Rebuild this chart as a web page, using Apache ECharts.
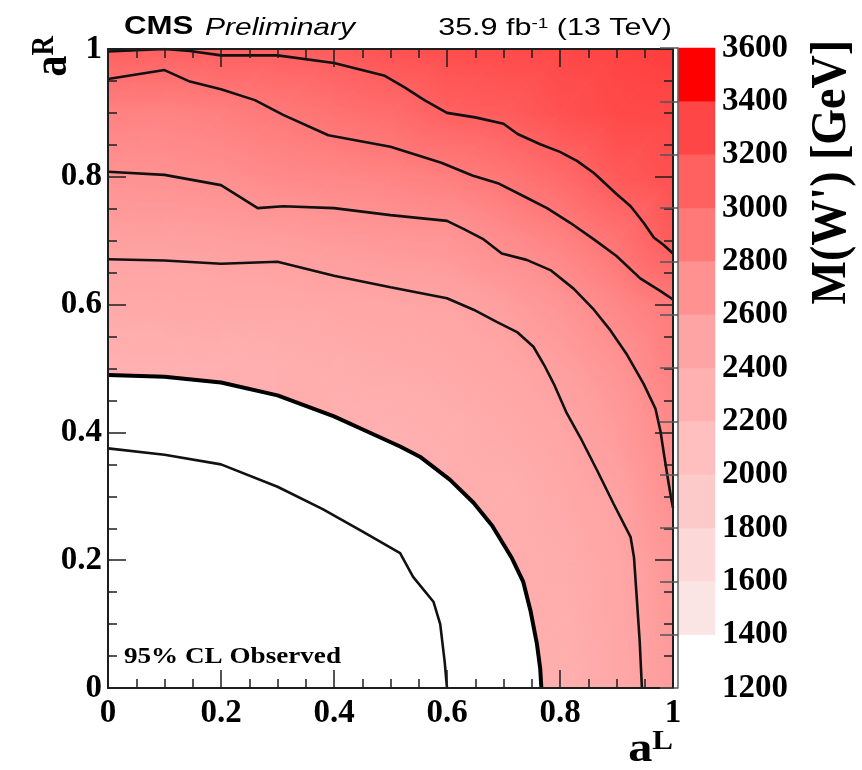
<!DOCTYPE html>
<html><head><meta charset="utf-8">
<script src="https://cdn.jsdelivr.net/npm/echarts@6.0.0/dist/echarts.min.js"></script>
<style>html,body{margin:0;padding:0;background:#fff}#c{width:862px;height:770px}</style>
</head><body><div id="c"></div>
<script>
// ---- data ----
const aLGrid = [0, 0.1, 0.2, 0.3, 0.4, 0.5, 0.6, 0.7, 0.8, 0.9, 1.0];
const aRGrid = [0, 0.1, 0.2, 0.3, 0.4, 0.5, 0.6, 0.7, 0.8, 0.9, 1.0];
// M(W') limit [GeV], rows = aR (0 -> 1), columns = aL (0 -> 1); null = no limit (white)
const massRow00 = [null, null, null, null, null, null, null, null, 2337, 2449, 2600];
const massRow01 = [null, null, null, null, null, null, null, null, 2351, 2457, 2620];
const massRow02 = [null, null, null, null, null, null, null, null, 2380, 2471, 2650];
const massRow03 = [null, null, null, null, null, null, null, 2340, 2420, 2515, 2711];
const massRow04 = [null, null, null, null, null, 2312, 2351, 2403, 2470, 2591, 2772];
const massRow05 = [2311, 2314, 2324, 2340, 2368, 2395, 2422, 2462, 2550, 2666, 2834];
const massRow06 = [2422, 2424, 2431, 2436, 2459, 2478, 2493, 2561, 2656, 2784, 2895];
const massRow07 = [2542, 2546, 2559, 2576, 2604, 2629, 2649, 2737, 2821, 2949, 3155];
const massRow08 = [2688, 2696, 2717, 2763, 2785, 2812, 2852, 2925, 3023, 3156, 3230];
const massRow09 = [2827, 2818, 2851, 2900, 2961, 3008, 3100, 3136, 3221, 3280, 3290];
const massRow10 = [3110, 3100, 3120, 3120, 3140, 3212, 3250, 3270, 3290, 3310, 3330];
const massGrid = [massRow00, massRow01, massRow02, massRow03, massRow04, massRow05,
                  massRow06, massRow07, massRow08, massRow09, massRow10];

// contour lines [aL, aR]
const contour1 = [[0,0.996],[0.1,1.0],[0.145,0.997],[0.2,0.99],[0.3,0.99],[0.4,0.978],[0.49,0.958],[0.525,0.94],[0.56,0.92],[0.6,0.9],[0.65,0.893],[0.7,0.883],[0.725,0.867],[0.765,0.851],[0.8,0.839],[0.83,0.825],[0.86,0.806],[0.9,0.773],[0.925,0.754],[0.948,0.728],[0.966,0.705],[0.984,0.693],[1.0,0.68]];
const contour2 = [[0,0.953],[0.1,0.967],[0.145,0.949],[0.2,0.937],[0.26,0.92],[0.31,0.897],[0.39,0.865],[0.5,0.847],[0.59,0.822],[0.645,0.802],[0.69,0.79],[0.735,0.77],[0.777,0.751],[0.818,0.728],[0.86,0.702],[0.9,0.676],[0.942,0.641],[0.978,0.621],[1.0,0.608]];
const contour3 = [[0,0.808],[0.1,0.803],[0.2,0.787],[0.265,0.751],[0.31,0.754],[0.4,0.751],[0.5,0.74],[0.6,0.731],[0.63,0.718],[0.665,0.702],[0.697,0.68],[0.741,0.67],[0.783,0.654],[0.824,0.625],[0.86,0.592],[0.889,0.56],[0.919,0.521],[0.948,0.476],[0.969,0.437],[0.978,0.401],[0.984,0.366],[0.991,0.327],[0.996,0.301],[1.0,0.282]];
const contour4 = [[0,0.671],[0.1,0.669],[0.2,0.664],[0.3,0.667],[0.4,0.645],[0.5,0.627],[0.6,0.61],[0.647,0.592],[0.688,0.573],[0.724,0.557],[0.753,0.534],[0.774,0.502],[0.789,0.476],[0.812,0.43],[0.836,0.392],[0.866,0.34],[0.895,0.288],[0.925,0.236],[0.931,0.204],[0.936,0.139],[0.941,0.074],[0.945,0]];
const observedLimit = [[0,0.49],[0.1,0.487],[0.2,0.478],[0.3,0.458],[0.4,0.425],[0.45,0.405],[0.517,0.378],[0.552,0.362],[0.605,0.326],[0.647,0.29],[0.68,0.254],[0.715,0.203],[0.735,0.166],[0.748,0.12],[0.759,0.07],[0.765,0.03],[0.767,0]];
const innerContour = [[0,0.375],[0.1,0.365],[0.2,0.35],[0.3,0.315],[0.38,0.28],[0.45,0.245],[0.517,0.211],[0.54,0.174],[0.576,0.135],[0.588,0.1],[0.596,0.04],[0.6,0]];

// colour scale
const colorbarEdges = [1200,1400,1600,1800,2000,2200,2400,2600,2800,3000,3200,3400,3600];
const colorbarColors = ['#ffffff','#fbe4e4','#fcd8d8','#fdcaca','#ffbfbf','#ffb1b1','#ffa4a4','#ff9191','#ff7979','#ff6161','#ff4646','#ff0000'];
const colorbarTickLabels = ['1200','1400','1600','1800','2000','2200','2400','2600','2800','3000','3200','3400','3600'];

// ---- helpers ----
const palValues = colorbarEdges.slice(0, -1).map((e, k) => (e + colorbarEdges[k + 1]) / 2);
function hexRgb(h){ return [parseInt(h.substr(1,2),16), parseInt(h.substr(3,2),16), parseInt(h.substr(5,2),16)]; }
const palRgb = colorbarColors.map(hexRgb);
function palColor(v){
  if (v <= palValues[0]) return colorbarColors[0];
  const n = palValues.length;
  if (v >= palValues[n-1]) return colorbarColors[n-1];
  let k = 0; while (v > palValues[k+1]) k++;
  const t = (v - palValues[k]) / (palValues[k+1] - palValues[k]);
  const a = palRgb[k], b = palRgb[k+1];
  return 'rgb(' + [0,1,2].map(c => Math.round(a[c] + (b[c]-a[c]) * t)).join(',') + ')';
}
function triStyle(p, v){
  const d1x = p[1][0]-p[0][0], d1y = p[1][1]-p[0][1];
  const d2x = p[2][0]-p[0][0], d2y = p[2][1]-p[0][1];
  const dv1 = v[1]-v[0], dv2 = v[2]-v[0];
  const det = d1x*d2y - d1y*d2x;
  const b = (dv1*d2y - dv2*d1y) / det;
  const c = (d1x*dv2 - d2x*dv1) / det;
  const g2 = b*b + c*c;
  if (!isFinite(g2) || g2 < 1e-12) { const col = palColor((v[0]+v[1]+v[2])/3); return {fill: col, stroke: col, lineWidth: 1}; }
  const vmin = Math.min(v[0],v[1],v[2]), vmax = Math.max(v[0],v[1],v[2]);
  const sx = p[0][0] + b*(vmin-v[0])/g2, sy = p[0][1] + c*(vmin-v[0])/g2;
  const ex = p[0][0] + b*(vmax-v[0])/g2, ey = p[0][1] + c*(vmax-v[0])/g2;
  const stops = [];
  for (let s = 0; s <= 4; s++) stops.push({offset: s/4, color: palColor(vmin + (vmax-vmin)*s/4)});
  const grad = {type: 'linear', x: sx, y: sy, x2: ex, y2: ey, colorStops: stops, global: true};
  return {fill: grad, stroke: grad, lineWidth: 1};
}

const cells = [];
for (let j = 0; j < aRGrid.length - 1; j++)
  for (let i = 0; i < aLGrid.length - 1; i++)
    cells.push([aLGrid[i], aRGrid[j], aLGrid[i+1], aRGrid[j+1], i, j]);

const bands = colorbarColors.map((c, k) => [colorbarEdges[k], colorbarEdges[k+1], k]);

const SERIF = "'Liberation Serif', 'Times New Roman', serif";
const SANS = "'Liberation Sans', Arial, sans-serif";
const labelFont = {fontFamily: SERIF, fontWeight: 'bold', fontSize: 33, color: '#000'};
const axisCol = '#1e1e1e';
const lineCol = '#111';

function mainAxis(extra){
  return Object.assign({
    type: 'value', min: 0, max: 1, interval: 0.2, gridIndex: 0, z: 10,
    axisLine: {show: true, onZero: false, lineStyle: {color: axisCol, width: 2}},
    axisTick: {show: true, inside: true, length: 18, lineStyle: {color: axisCol, width: 1.5}},
    minorTick: {show: true, splitNumber: 4, length: 9, lineStyle: {color: axisCol, width: 1.5}},
    splitLine: {show: false},
    axisLabel: {show: false}
  }, extra);
}

const chart = echarts.init(document.getElementById('c'), null, {renderer: 'canvas'});
chart.setOption({
  backgroundColor: '#fff',
  animation: false,
  grid: [
    {left: 108, top: 49, width: 565, height: 639, containLabel: false, outerBoundsMode: 'none'},
    {left: 678, top: 48, width: 37, height: 640, containLabel: false, outerBoundsMode: 'none'}
  ],
  xAxis: [
    mainAxis({position: 'bottom', axisLabel: Object.assign({show: true, margin: 9, formatter: v => String(v)}, labelFont)}),
    mainAxis({position: 'top'}),
    {type: 'value', gridIndex: 1, min: 0, max: 1, show: false}
  ],
  yAxis: [
    mainAxis({position: 'left', axisLabel: Object.assign({show: true, margin: 6, formatter: v => String(v)}, labelFont)}),
    mainAxis({position: 'right'}),
    {type: 'value', gridIndex: 1, min: 1200, max: 3600, interval: 200, position: 'right', z: 10,
     axisLine: {show: true, lineStyle: {color: '#666', width: 1.5}},
     axisTick: {show: true, inside: true, length: 18, lineStyle: {color: '#555', width: 1.5}},
     splitLine: {show: false},
     axisLabel: Object.assign({show: true, margin: 7, formatter: v => colorbarTickLabels[colorbarEdges.indexOf(v)] || String(v)}, labelFont)}
  ],
  series: [
    {
      type: 'custom', name: 'M(W\')', xAxisIndex: 0, yAxisIndex: 0, z: 1,
      data: cells, encode: {x: [0, 2], y: [1, 3]},
      renderItem: function(params, api){
        const a0 = api.value(0), r0 = api.value(1), a1 = api.value(2), r1 = api.value(3);
        const i = api.value(4), j = api.value(5);
        const raw = [massGrid[j][i], massGrid[j][i+1], massGrid[j+1][i+1], massGrid[j+1][i]];
        const known = raw.filter(v => v != null);
        if (!known.length) return null;
        const fillV = Math.min.apply(null, known);
        const vals = raw.map(v => v == null ? fillV : v);
        const P = [api.coord([a0, r0]), api.coord([a1, r0]), api.coord([a1, r1]), api.coord([a0, r1])];
        const tris = [[0,1,2],[0,2,3]];
        return {type: 'group', children: tris.map(t => ({
          type: 'polygon', shape: {points: t.map(k => P[k])},
          style: triStyle(t.map(k => P[k]), t.map(k => vals[k]))
        }))};
      }
    },
    {
      type: 'custom', name: 'colorbar', xAxisIndex: 2, yAxisIndex: 2, z: 1,
      data: bands, encode: {y: [0, 1]},
      renderItem: function(params, api){
        const lo = api.value(0), hi = api.value(1), k = api.value(2);
        const p0 = api.coord([0, hi]), p1 = api.coord([1, lo]);
        return {type: 'rect', shape: {x: p0[0], y: p0[1], width: p1[0]-p0[0], height: p1[1]-p0[1]},
                style: {fill: colorbarColors[k], stroke: colorbarColors[k], lineWidth: 0.5}};
      }
    },
    {type: 'line', name: 'observed', xAxisIndex: 0, yAxisIndex: 0, z: 4, data: observedLimit,
     showSymbol: false, symbol: 'none', silent: true,
     lineStyle: {color: '#000', width: 4}, areaStyle: {color: '#fff', opacity: 1, origin: 'start'}},
    {type: 'line', xAxisIndex: 0, yAxisIndex: 0, z: 5, data: innerContour, symbol: 'none', lineStyle: {color: lineCol, width: 2.6}},
    {type: 'line', xAxisIndex: 0, yAxisIndex: 0, z: 5, data: contour4, symbol: 'none', lineStyle: {color: lineCol, width: 2.6}},
    {type: 'line', xAxisIndex: 0, yAxisIndex: 0, z: 5, data: contour3, symbol: 'none', lineStyle: {color: lineCol, width: 2.6}},
    {type: 'line', xAxisIndex: 0, yAxisIndex: 0, z: 5, data: contour2, symbol: 'none', lineStyle: {color: lineCol, width: 2.6}},
    {type: 'line', xAxisIndex: 0, yAxisIndex: 0, z: 5, data: contour1, symbol: 'none', lineStyle: {color: lineCol, width: 2.6}}
  ],
  graphic: [
    {type: 'text', x: 124, y: 27, scaleX: 1.2, z: 20, style: {text: 'CMS', font: "bold 26px " + SANS, fill: '#000',
      align: 'left', verticalAlign: 'middle', textAlign: 'left', textVerticalAlign: 'middle'}},
    {type: 'text', x: 205, y: 28, scaleX: 1.25, z: 20, style: {text: 'Preliminary', font: "italic 24px " + SANS, fill: '#000',
      align: 'left', verticalAlign: 'middle', textAlign: 'left', textVerticalAlign: 'middle'}},
    {type: 'text', x: 672, y: 28, scaleX: 1.27, z: 20, style: {
      text: '{n|35.9 fb}{s|-1}{n| (13 TeV)}', fill: '#000',
      align: 'right', verticalAlign: 'middle', textAlign: 'right', textVerticalAlign: 'middle',
      rich: {n: {fontFamily: SANS, fontSize: 24, verticalAlign: 'bottom'}, s: {fontFamily: SANS, fontSize: 15, verticalAlign: 'top'}}}},
    {type: 'text', x: 124, y: 657, scaleX: 1.13, z: 20, style: {text: '95% CL Observed', font: "bold 24px " + SERIF, fill: '#000',
      align: 'left', verticalAlign: 'middle', textAlign: 'left', textVerticalAlign: 'middle'}},
    {type: 'text', x: 54, y: 36, rotation: Math.PI/2, scaleY: 1.15, z: 20, style: {
      text: '{a|a}{s|R}', align: 'right', verticalAlign: 'middle', textAlign: 'right', textVerticalAlign: 'middle', fill: '#000',
      rich: {a: {fontFamily: SERIF, fontWeight: 'bold', fontSize: 42, verticalAlign: 'bottom'}, s: {fontFamily: SERIF, fontWeight: 'bold', fontSize: 27, verticalAlign: 'top'}}}},
    {type: 'text', x: 673, y: 750, scaleX: 1.15, z: 20, style: {
      text: '{a|a}{s|L}', align: 'right', verticalAlign: 'middle', textAlign: 'right', textVerticalAlign: 'middle', fill: '#000',
      rich: {a: {fontFamily: SERIF, fontWeight: 'bold', fontSize: 42, verticalAlign: 'bottom'}, s: {fontFamily: SERIF, fontWeight: 'bold', fontSize: 27, verticalAlign: 'top'}}}},
    {type: 'text', x: 832, y: 40, rotation: Math.PI/2, scaleY: 1.1, z: 20, style: {
      text: "M(W') [GeV]", align: 'right', verticalAlign: 'middle', textAlign: 'right', textVerticalAlign: 'middle',
      font: "bold 46px " + SERIF, fill: '#000'}}
  ]
});
</script>
</body></html>
